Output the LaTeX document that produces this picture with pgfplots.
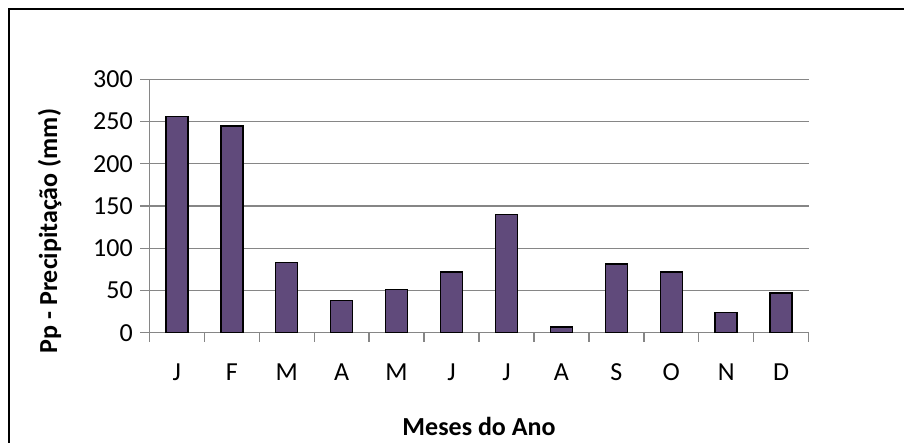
\documentclass[border=0pt]{standalone}
\usepackage{fontspec}
\setmainfont{Carlito}
\usepackage{pgfplots}
\pgfplotsset{compat=1.18}
\definecolor{barpurple}{RGB}{96,74,123}
\definecolor{gridgray}{RGB}{134,134,134}
\newcommand{\tickfont}{\fontsize{26}{30}\selectfont}
\begin{document}
\begin{tikzpicture}[x=1pt,y=1pt]
\useasboundingbox (0,0) rectangle (904,443);
\draw[line width=2pt] (9,-5) -- (9,434) -- (910,434);
\begin{axis}[
  at={(149.3pt,110.3pt)}, anchor=south west,
  scale only axis, width=659.4pt, height=253.4pt,
  xmin=0.5, xmax=12.5, ymin=0, ymax=300,
  axis x line*=bottom, axis y line*=left,
  axis line style={gridgray, line width=1.3pt, -},
  tick align=outside, major tick length=9pt,
  tick style={gridgray, line width=1.3pt},
  ymajorgrids, grid style={gridgray, line width=1.3pt},
  ytick={0,50,...,300},
  xtick={0.5,1.5,...,12.5}, xticklabels={},
  extra x ticks={1,...,12},
  extra x tick labels={J,F,M,A,M,J,J,A,S,O,N,D},
  extra x tick style={major tick length=0pt, grid=none},
  xticklabel style={font=\tickfont, text height=17pt, text depth=0pt, yshift=-27pt},
  yticklabel style={font=\tickfont, xshift=-4pt},
  /pgf/number format/assume math mode=true,
  xlabel={Meses do Ano}, ylabel={Pp - Precipitação (mm)},
  label style={font=\bfseries\fontsize{26}{30}\selectfont},
  xlabel style={at={(rel axis cs:0.5,-0.372)}, anchor=center},
  ylabel style={at={(rel axis cs:-0.151,0.401)}, anchor=center},
  clip=false,
]
\addplot[ybar, bar width=22pt, fill=barpurple, draw=black, line width=1.6pt]
  coordinates {(1,256) (2,245) (3,83) (4,38) (5,51) (6,72) (7,140) (8,7) (9,81) (10,72) (11,24) (12,47)};
\end{axis}
\end{tikzpicture}
\end{document}
